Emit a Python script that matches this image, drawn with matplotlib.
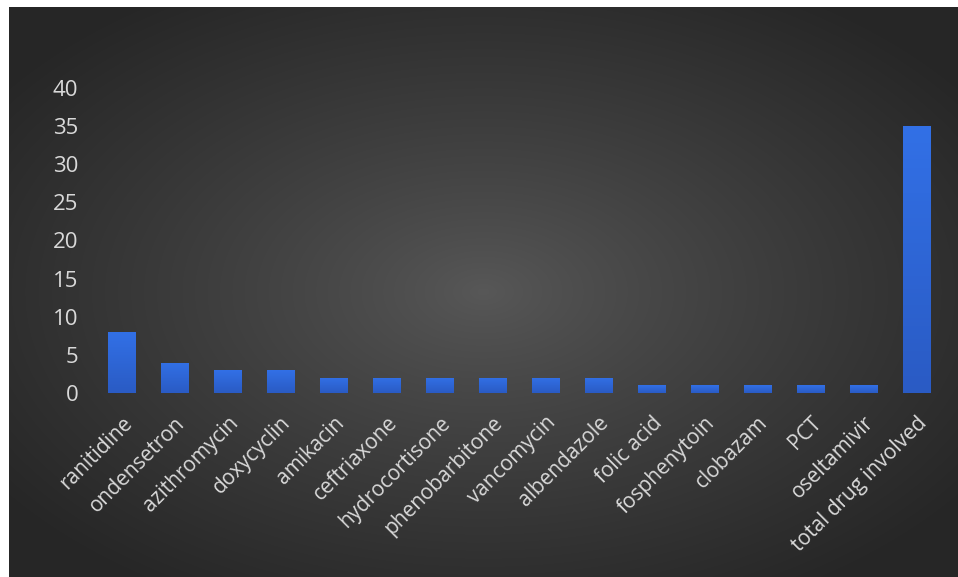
import matplotlib
matplotlib.use("Agg")
import matplotlib.pyplot as plt
import matplotlib.patheffects as pe
import numpy as np

drugs = ["ranitidine", "ondensetron", "azithromycin", "doxycyclin", "amikacin",
         "ceftriaxone", "hydrocortisone", "phenobarbitone", "vancomycin",
         "albendazole", "folic acid", "fosphenytoin", "clobazam", "PCT",
         "oseltamivir", "total drug involved"]
counts = [8, 4, 3, 3, 2, 2, 2, 2, 2, 2, 1, 1, 1, 1, 1, 35]
yticks = [0, 5, 10, 15, 20, 25, 30, 35, 40]

W, H = 958, 577
fig = plt.figure(figsize=(W / 100, H / 100), dpi=100, facecolor="white")

# dark radial backdrop
bg = fig.add_axes([9 / W, 0, 1 - 9 / W, 1 - 7 / H])
gx, gy = np.meshgrid(np.linspace(-1, 1, 600), np.linspace(-1, 1, 360))
r = np.clip(np.sqrt(gx ** 2 + gy ** 2) / 1.25, 0, 1)
shade = 0.345 - 0.195 * r ** 0.85
bg.imshow(np.dstack([shade, shade, shade]), aspect="auto", extent=(0, 1, 0, 1),
          interpolation="bilinear")
bg.set_axis_off()

ax = fig.add_axes([95 / W, 1 - 393 / H, (943 - 95) / W, (393 - 88) / H])
ax.patch.set_alpha(0)
x = np.arange(len(drugs))
bars = ax.bar(x, counts, width=0.52, color="#2f66d8", zorder=2,
              path_effects=[pe.SimplePatchShadow(offset=(0, -1), shadow_rgbFace="black", alpha=0.35),
                            pe.Normal()])

# vertical shading inside each bar
grad = np.linspace(0, 1, 64).reshape(-1, 1)
cmap = matplotlib.colors.LinearSegmentedColormap.from_list("bar", ["#2a5bc4", "#3270e6"])
for b in bars:
    x0, w, h = b.get_x(), b.get_width(), b.get_height()
    im = ax.imshow(grad, cmap=cmap, aspect="auto", origin="lower",
                   extent=(x0, x0 + w, 0, h), zorder=3)
    im.set_clip_path(b)

ax.set_xlim(-0.5, len(drugs) - 0.5)
ax.set_ylim(0, 40)
ax.set_yticks(yticks)
ax.set_xticks(x)
ax.set_xticklabels(drugs, rotation=45, ha="right", rotation_mode="anchor")
for s in ax.spines.values():
    s.set_visible(False)
ax.tick_params(length=0, colors="#d9d9d9")
ax.tick_params(axis="y", pad=12, labelsize=16)
ax.tick_params(axis="x", pad=14, labelsize=15)
for lab in ax.get_xticklabels() + ax.get_yticklabels():
    lab.set_fontfamily("Open Sans")
    lab.set_color("#d9d9d9")

fig.savefig("out.png", dpi=100, facecolor="white")
